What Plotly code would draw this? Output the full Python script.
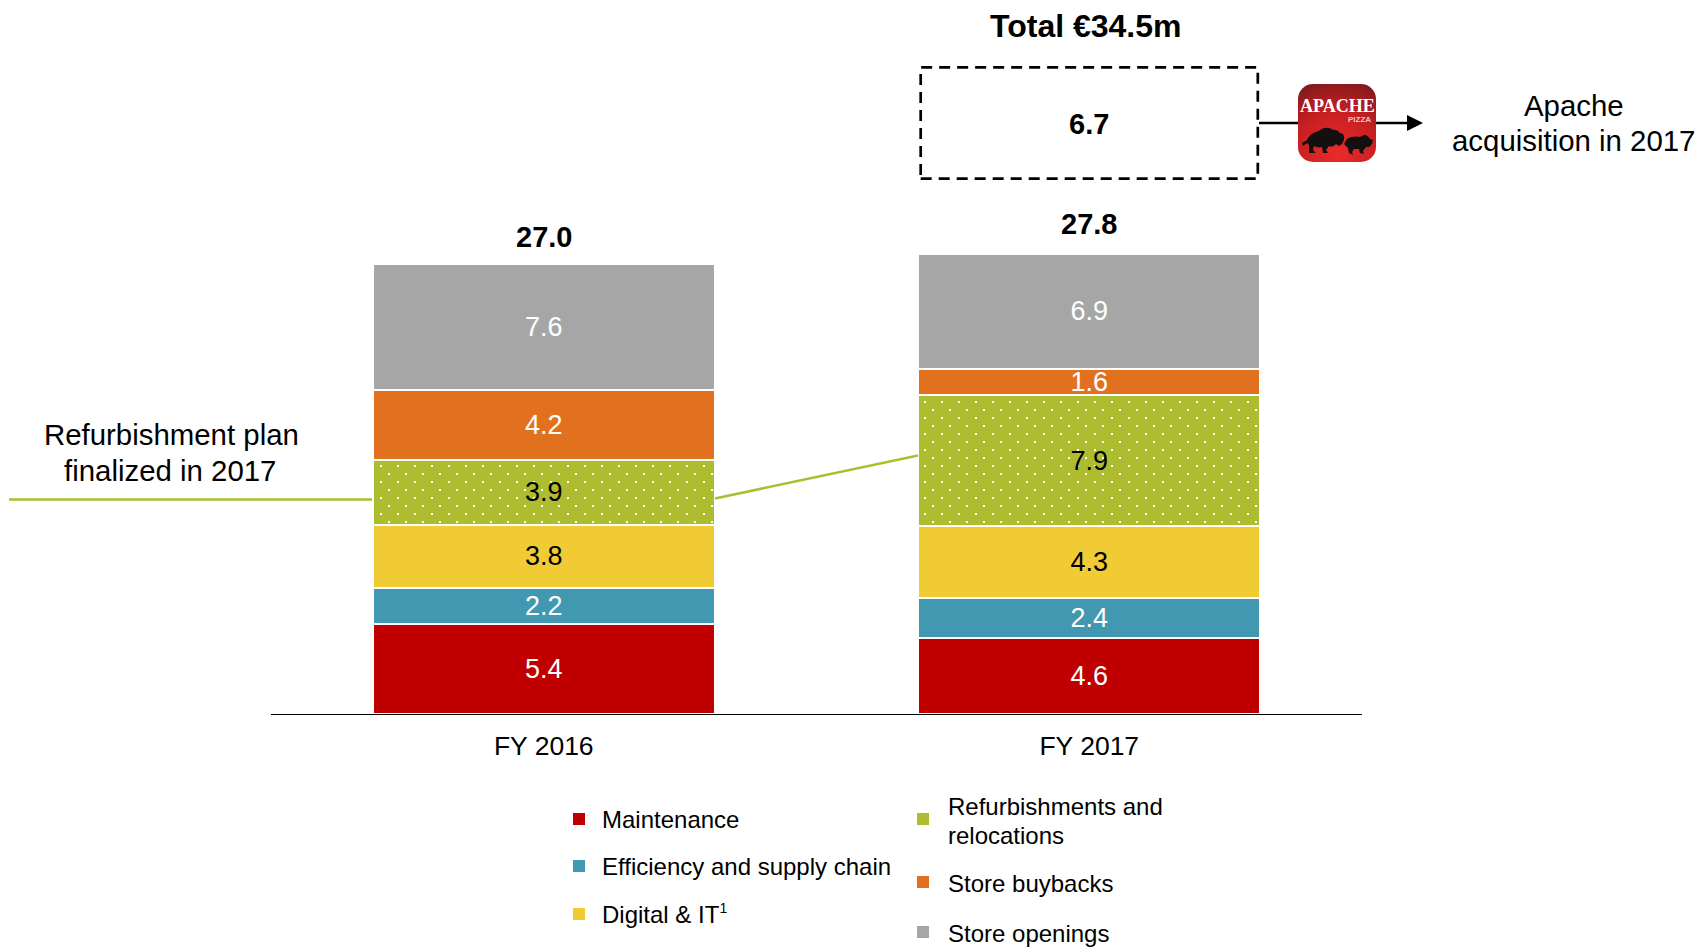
import plotly.graph_objects as go
from urllib.parse import quote

W, H = 1698, 947
FONT = "Liberation Sans"

# Capex by category, stacked bottom to top
years = ["FY 2016", "FY 2017"]
maintenance = [5.4, 4.6]
efficiency = [2.2, 2.4]
digital = [3.8, 4.3]
refurbishments = [3.9, 7.9]
buybacks = [4.2, 1.6]
openings = [7.6, 6.9]
totals = [27.0, 27.8]
totals_text = ["27.0", "27.8"]
apache_value = 6.7
apache_base = 32.25

series_names = ["Maintenance", "Efficiency and supply chain", "Digital & IT",
                "Refurbishments and relocations", "Store buybacks", "Store openings"]
series_values = [maintenance, efficiency, digital, refurbishments, buybacks, openings]
series_colors = ["#C00000", "#4198B0", "#F0CB33", "#AEBD2F", "#E2711F", "#A6A6A6"]
label_colors = ["white", "white", "black", "black", "white", "white"]


def px(x):
    return x / W


def py(y):
    return 1 - y / H


BAR_WIDTH = 0.627
BOX_HALF = 0.309
BASELINE = 714
UNIT = 16.6

fig = go.Figure()
for name, vals, col, lab in zip(series_names, series_values, series_colors, label_colors):
    marker = dict(color=col, line=dict(color="white", width=2))
    if name.startswith("Refurb"):
        marker["pattern"] = dict(shape=".", fgcolor="white", bgcolor=col, size=11, solidity=0.05)
    fig.add_bar(x=years, y=vals, name=name, width=BAR_WIDTH, marker=marker,
                text=[f"{v:.1f}" for v in vals], textposition="inside",
                insidetextanchor="middle", textangle=0, constraintext="none",
                textfont=dict(family=FONT, size=27, color=lab), showlegend=False)

annotations = []


def note(text, x, y, size=26, bold=False, anchor="center", color="black", family=FONT):
    annotations.append(dict(text=f"<b>{text}</b>" if bold else text, x=px(x), y=py(y),
                            xref="paper", yref="paper", xanchor=anchor, yanchor="middle",
                            showarrow=False, font=dict(family=family, size=size, color=color)))


# Totals above each stack
for i, (t, label) in enumerate(zip(totals, totals_text)):
    annotations.append(dict(text=f"<b>{label}</b>", x=i, y=t, xref="x", yref="y", xanchor="center",
                            yanchor="bottom", yshift=11, showarrow=False,
                            font=dict(family=FONT, size=29, color="black")))

# Apache acquisition box, sized by its value on the y axis
annotations.append(dict(text=f"<b>{apache_value}</b>", x=1, y=apache_base + apache_value / 2, xref="x",
                        yref="y", yshift=-1, showarrow=False,
                        font=dict(family=FONT, size=29, color="black")))
note("Total €34.5m", 1085, 26, size=32, bold=True)
note("Apache", 1574, 106, size=29.4)
note("acquisition in 2017", 1573, 141, size=29.4)
note("Refurbishment plan", 171, 434, size=29.4)
note("finalized in 2017", 170, 470, size=29.4)
note("APACHE", 1337, 106, size=18, bold=True, color="white", family="Liberation Serif")
note("PIZZA", 1359, 119, size=8, bold=True, color="#E8C9C0")

shapes = [
    dict(type="rect", xref="x", yref="y", x0=1 - BOX_HALF, x1=1 + BOX_HALF,
         y0=apache_base, y1=apache_base + apache_value, line=dict(color="black", width=2.7, dash="11px,7px")),
    dict(type="line", xref="paper", yref="paper", x0=px(1259), x1=px(1410), y0=py(123), y1=py(123),
         line=dict(color="black", width=2.5), layer="below"),
    dict(type="path", xref="paper", yref="paper",
         path=f"M {px(1407)} {py(115)} L {px(1423)} {py(123)} L {px(1407)} {py(131)} Z",
         fillcolor="black", line=dict(width=0)),
    dict(type="line", xref="paper", yref="paper", x0=px(9), x1=px(372), y0=py(499.5), y1=py(499.5),
         line=dict(color="#AEBD2F", width=2.5)),
    dict(type="line", xref="paper", yref="paper", x0=px(715), x1=px(918), y0=py(498.5), y1=py(455.5),
         line=dict(color="#AEBD2F", width=2.5)),
]

# Legend: two hand-placed columns
legend_rows = [
    (0, 573, 600, 819, ["Maintenance"]),
    (1, 573, 600, 866, ["Efficiency and supply chain"]),
    (2, 573, 600, 914, ['Digital & IT<sup><span style="font-size:14px">1</span></sup>']),
    (3, 917, 946, 819, ["Refurbishments and", "relocations"]),
    (4, 917, 946, 882, ["Store buybacks"]),
    (5, 917, 946, 932, ["Store openings"]),
]
for idx, sx, tx, sy, lines in legend_rows:
    shapes.append(dict(type="rect", xref="paper", yref="paper", x0=px(sx), x1=px(sx + 12),
                       y0=py(sy - 6), y1=py(sy + 6), fillcolor=series_colors[idx], line=dict(width=0)))
    if len(lines) == 1:
        note(lines[0], tx, sy + (1 if idx > 3 else 0), size=24, anchor="left")
    else:
        note(lines[0], tx, sy - 13, size=24, anchor="left")
        note(lines[1], tx, sy + 16, size=24, anchor="left")

# App-icon style logo: red rounded tile with two bison silhouettes
logo_svg = (
    "<svg xmlns='http://www.w3.org/2000/svg' viewBox='0 0 78 78'>"
    "<defs><radialGradient id='g' cx='0.5' cy='0.9' r='1'>"
    "<stop offset='0' stop-color='#E82C2A'/><stop offset='0.55' stop-color='#C81F22'/>"
    "<stop offset='1' stop-color='#7A1A1C'/></radialGradient></defs>"
    "<rect width='78' height='78' rx='15' fill='url(#g)'/>"
    "<path d='M4 59 L9 56 C11 51 16 48 21 47 C25 43 31 43 35 46 C38 45 40 47 42 49 C45 49 47 52 "
    "46 56 L44 60 L41 62 L38 60 C35 63 33 63 31 62 L28 66 L30 69 L25 69 L24 63 C21 64 18 63 16 62 "
    "L15 66 L18 69 L11 69 L11 61 L9 59 L5 62 Z' fill='#141010'/>"
    "<path d='M46 60 L49 55 C53 52 58 52 62 53 L66 51 C69 51 71 53 72 55 L75 56 L74 60 L71 63 "
    "L68 63 L65 67 L66 70 L62 69 L61 65 L56 65 L54 68 L55 71 L51 69 L50 64 Z' fill='#141010'/></svg>"
)

fig.update_layout(
    width=W, height=H, margin=dict(l=0, r=0, t=0, b=0),
    paper_bgcolor="white", plot_bgcolor="white",
    barmode="stack", hovermode=False,
    font=dict(family=FONT),
    xaxis=dict(domain=[px(271), px(1362)], range=[-0.5, 1.5], type="category",
               categoryorder="array", categoryarray=years, showgrid=False,
               showline=True, linecolor="black", linewidth=1.2, ticks="", ticklabelstandoff=8,
               tickfont=dict(family=FONT, size=26.5, color="black")),
    yaxis=dict(domain=[py(BASELINE), 1], range=[0, BASELINE / UNIT], visible=False),
    shapes=shapes,
    annotations=annotations,
    images=[dict(source="data:image/svg+xml," + quote(logo_svg), xref="paper", yref="paper",
                 x=px(1298), y=py(84), sizex=78 / W, sizey=78 / H, xanchor="left", yanchor="top",
                 sizing="stretch", layer="above")],
)

# Square dots on a staggered lattice for the refurbishment segments
dots = ("document.querySelectorAll('pattern').forEach(function(p){"
        "p.setAttribute('width',17);p.setAttribute('height',16);"
        "p.innerHTML='<rect width=\"17\" height=\"16\" fill=\"" + series_colors[3] + "\"/>"
        "<rect x=\"7\" y=\"1\" width=\"2\" height=\"2\" fill=\"white\"/>"
        "<rect x=\"15\" y=\"9\" width=\"2\" height=\"2\" fill=\"white\"/>';});")
fig.write_html("out.html", config=dict(displayModeBar=False), post_script=dots)
